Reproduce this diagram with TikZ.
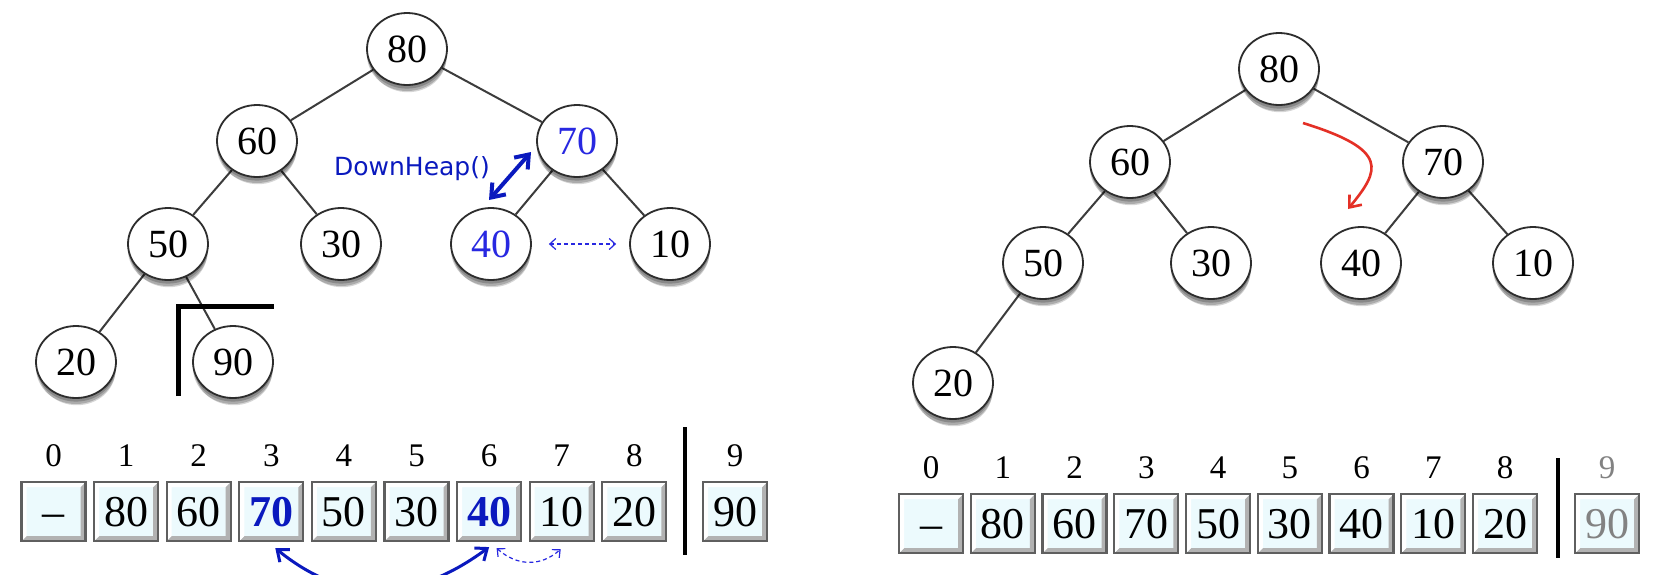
\documentclass[tikz,border=0pt]{standalone}
\usepackage{fontspec}
\setmainfont{Liberation Serif}
\newfontfamily\dvsans{DejaVu Sans}
\usetikzlibrary{shapes.geometric,arrows.meta,shadows,backgrounds}
\definecolor{edgegray}{RGB}{60,60,60}
\definecolor{nodeedge}{RGB}{45,45,45}
\definecolor{hlblue}{RGB}{40,40,225}
\definecolor{arrblue}{RGB}{10,25,190}
\definecolor{boxfill}{RGB}{236,250,253}
\definecolor{boxedge}{RGB}{95,95,95}
\definecolor{redarrow}{RGB}{228,48,38}
\definecolor{dimgray}{RGB}{130,130,130}
\tikzset{
  treenode/.style={ellipse, draw=nodeedge, line width=0.9pt, fill=white,
    minimum width=40pt, minimum height=36pt, inner sep=0pt,
    font=\fontsize{20}{20}\selectfont,
    drop shadow={shadow xshift=0pt, shadow yshift=-3pt, opacity=0.2, fill=black},
    drop shadow={shadow xshift=0pt, shadow yshift=-1.8pt, opacity=0.2, fill=black},
    drop shadow={shadow xshift=0.5pt, shadow yshift=-4.5pt, shadow scale=0.96, opacity=0.16, fill=black}},
  treeedge/.style={draw=edgegray, line width=1pt},
  cell/.style={rectangle, draw=boxedge, line width=1.1pt, fill=boxfill,
    minimum width=32pt, minimum height=29.5pt, inner sep=0pt,
    text height=14.5pt, text depth=0pt,
    font=\fontsize{22}{22}\selectfont,
    path picture={
      \fill[black!30] (path picture bounding box.south west) -- (path picture bounding box.south east)
        -- (path picture bounding box.north east)
        -- ([xshift=-2.5pt,yshift=-2.5pt]path picture bounding box.north east)
        -- ([xshift=-2.5pt,yshift=2.5pt]path picture bounding box.south east)
        -- ([xshift=2.5pt,yshift=2.5pt]path picture bounding box.south west) -- cycle;
      \fill[white] (path picture bounding box.south west) -- (path picture bounding box.north west)
        -- (path picture bounding box.north east)
        -- ([xshift=-2.5pt,yshift=-2.5pt]path picture bounding box.north east)
        -- ([xshift=2.5pt,yshift=-2.5pt]path picture bounding box.north west)
        -- ([xshift=2.5pt,yshift=2.5pt]path picture bounding box.south west) -- cycle;
    }},
  idx/.style={font=\fontsize{16.5}{16.5}\selectfont, inner sep=0pt},
  separator/.style={line width=2pt, draw=black},
  cornerbar/.style={line width=2.5pt, draw=black},
  thickarrow/.style={arrblue, line width=1.6pt, {Straight Barb[length=5pt,width=8pt]}-{Straight Barb[length=5pt,width=8pt]}},
  dasharrow/.style={hlblue, line width=0.6pt, dash pattern=on 2pt off 1.5pt,
    {Straight Barb[length=3pt,width=5.5pt]}-{Straight Barb[length=3pt,width=5.5pt]}},
  redcurve/.style={redarrow, line width=1.3pt, -{Straight Barb[length=5pt,width=8pt]}}
}
\begin{document}
\begin{tikzpicture}[x=0.5pt,y=-0.5pt]
\useasboundingbox (0,0) rectangle (1654,574);
\clip (0,0) rectangle (1654,574);

% ---------- left tree ----------
\node[treenode] (L80) at (407,49) {80};
\node[treenode] (L60) at (257,141) {60};
\node[treenode, text=hlblue] (L70) at (577,141) {70};
\node[treenode] (L50) at (168,244) {50};
\node[treenode] (L30) at (341,244) {30};
\node[treenode, text=hlblue] (L40) at (491,244) {40};
\node[treenode] (L10) at (670,244) {10};
\node[treenode] (L20) at (76,362) {20};
\node[treenode] (L90) at (233,362) {90};

% ---------- right tree ----------
\node[treenode] (R80) at (1279,69) {80};
\node[treenode] (R60) at (1130,162) {60};
\node[treenode] (R70) at (1443,162) {70};
\node[treenode] (R50) at (1043,263) {50};
\node[treenode] (R30) at (1211,263) {30};
\node[treenode] (R40) at (1361,263) {40};
\node[treenode] (R10) at (1533,263) {10};
\node[treenode] (R20) at (953,383) {20};

\begin{scope}[on background layer]
  \fill[white] (0,0) rectangle (1654,574);
  \draw[treeedge] (L80) -- (L60);
  \draw[treeedge] (L80) -- (L70);
  \draw[treeedge] (L60) -- (L50);
  \draw[treeedge] (L60) -- (L30);
  \draw[treeedge] (L70) -- (L40);
  \draw[treeedge] (L70) -- (L10);
  \draw[treeedge] (L50) -- (L20);
  \draw[treeedge] (L50) -- (L90);
  \draw[treeedge] (R80) -- (R60);
  \draw[treeedge] (R80) -- (R70);
  \draw[treeedge] (R60) -- (R50);
  \draw[treeedge] (R60) -- (R30);
  \draw[treeedge] (R70) -- (R40);
  \draw[treeedge] (R70) -- (R10);
  \draw[treeedge] (R50) -- (R20);
\end{scope}

% DownHeap annotation
\node[font=\dvsans\fontsize{12.5}{12.5}\selectfont, text=arrblue, inner sep=0pt] (dh) at (412,169) {DownHeap()};
\coordinate (dhA) at (489,200);
\coordinate (dhB) at (531,152);
\draw[thickarrow, line width=2pt, {Straight Barb[length=6pt,width=9pt]}-{Straight Barb[length=6pt,width=9pt]}] (dhA) -- (dhB);
\draw[dasharrow, shorten <=8.5pt, shorten >=6.5pt] (L40) -- (L10);

% black corner
\coordinate (cA) at (178,396);
\coordinate (cB) at (178,306);
\coordinate (cC) at (274,306);
\draw[cornerbar] (cA) -- (cB) -- (cC);

% ---------- left array ----------
\foreach \i in {0,...,8} {
  \node[idx] (LI\i) at ({53.5+72.6*\i},456) {\i};
}
\node[idx] (LI9) at (735,456) {9};
\node[cell] (LB0) at ({53.5+72.6*0},511.5) {--};
\node[cell] (LB1) at ({53.5+72.6*1},511.5) {80};
\node[cell] (LB2) at ({53.5+72.6*2},511.5) {60};
\node[cell, text=arrblue, font=\fontsize{22}{22}\selectfont\bfseries] (LB3) at ({53.5+72.6*3},511.5) {70};
\node[cell] (LB4) at ({53.5+72.6*4},511.5) {50};
\node[cell] (LB5) at ({53.5+72.6*5},511.5) {30};
\node[cell, text=arrblue, font=\fontsize{22}{22}\selectfont\bfseries] (LB6) at ({53.5+72.6*6},511.5) {40};
\node[cell] (LB7) at ({53.5+72.6*7},511.5) {10};
\node[cell] (LB8) at ({53.5+72.6*8},511.5) {20};
\node[cell] (LB9) at (735,511.5) {90};
\coordinate (LsepT) at (685,427);
\coordinate (LsepB) at (685,555);
\draw[separator] (LsepT) -- (LsepB);

\draw[thickarrow, line width=1.5pt] ([xshift=2pt,yshift=-3pt]LB3.south)
  .. controls +(32.5pt,-26.5pt) and +(-40pt,-29.5pt) .. ([yshift=-2.5pt]LB6.south);
\draw[dasharrow] ([xshift=3.75pt,yshift=-3pt]LB6.south)
  .. controls +(10pt,-9pt) and +(-10pt,-9pt) .. ([xshift=-0.5pt,yshift=-3.5pt]LB7.south);

% ---------- right array ----------
\foreach \i in {0,...,8} {
  \node[idx] (RI\i) at ({931+71.75*\i},468) {\i};
}
\node[idx, text=dimgray] (RI9) at (1607,468) {9};
\node[cell] (RB0) at ({931+71.75*0},523.5) {--};
\node[cell] (RB1) at ({931+71.75*1},523.5) {80};
\node[cell] (RB2) at ({931+71.75*2},523.5) {60};
\node[cell] (RB3) at ({931+71.75*3},523.5) {70};
\node[cell] (RB4) at ({931+71.75*4},523.5) {50};
\node[cell] (RB5) at ({931+71.75*5},523.5) {30};
\node[cell] (RB6) at ({931+71.75*6},523.5) {40};
\node[cell] (RB7) at ({931+71.75*7},523.5) {10};
\node[cell] (RB8) at ({931+71.75*8},523.5) {20};
\node[cell, text=dimgray] (RB9) at (1607,523.5) {90};
\coordinate (RsepT) at (1558,458);
\coordinate (RsepB) at (1558,558);
\draw[separator, line width=1.6pt] (RsepT) -- (RsepB);

% red arrow
\coordinate (rs) at (1303,123);
\coordinate (re) at (1348,209);
\draw[redcurve] (rs) .. controls (1390,150) and (1380,170) .. (re);
\end{tikzpicture}
\end{document}
